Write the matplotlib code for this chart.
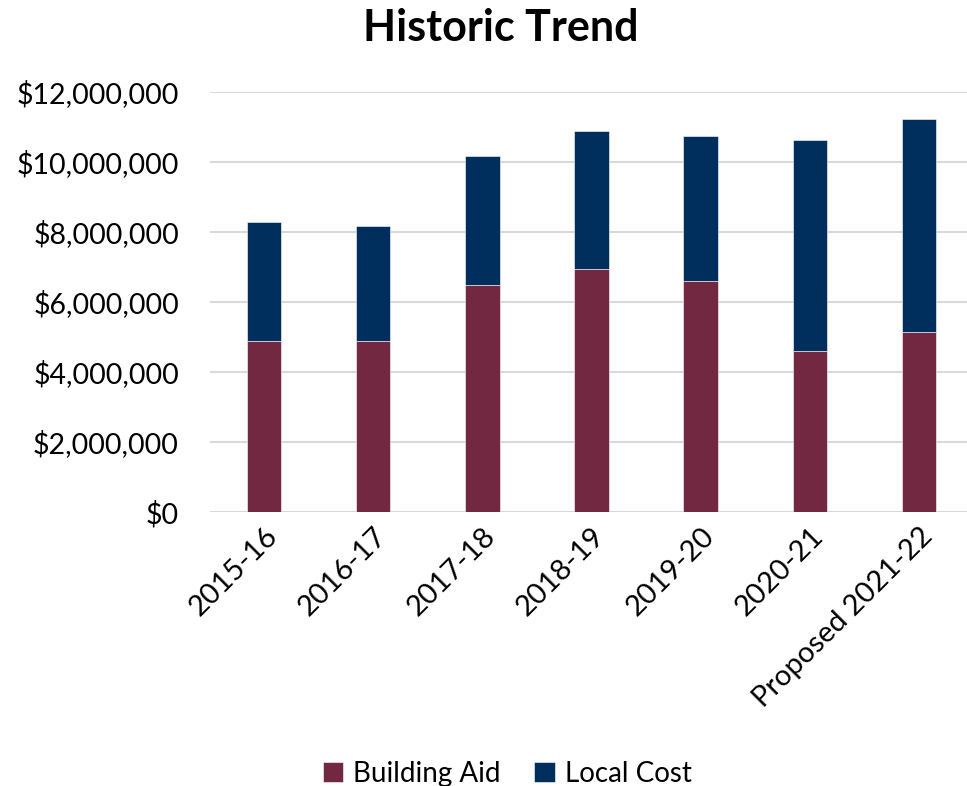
import matplotlib
matplotlib.use("Agg")
import matplotlib.pyplot as plt
from matplotlib.ticker import FuncFormatter

years = ["2015-16", "2016-17", "2017-18", "2018-19", "2019-20", "2020-21", "Proposed 2021-22"]
building_aid = [4886000, 4886000, 6486000, 6943000, 6600000, 4600000, 5143000]
local_cost = [3400000, 3286000, 3686000, 3943000, 4143000, 6029000, 6086000]

AID_COLOR = "#722840"
LOCAL_COLOR = "#002E5D"

plt.rcParams["font.family"] = ["Lato", "DejaVu Sans"]

fig = plt.figure(figsize=(9.67, 7.86), dpi=100)
ax = fig.add_axes([209.5 / 967, 1 - 512 / 786, 764 / 967, 420 / 786])

x = range(len(years))
ax.bar(x, building_aid, width=0.315, color=AID_COLOR, edgecolor="#ffffff", linewidth=0.4,
       label="Building Aid", zorder=3)
ax.bar(x, local_cost, width=0.315, bottom=building_aid, color=LOCAL_COLOR, edgecolor="#ffffff",
       linewidth=0.4, label="Local Cost", zorder=3)

ax.set_xlim(-0.5, len(years) - 0.5)
ax.set_ylim(0, 12000000)
ax.set_yticks(range(0, 12000001, 2000000))
ax.yaxis.set_major_formatter(FuncFormatter(lambda v, p: f"${v:,.0f}"))
ax.grid(axis="y", color="#d9d9d9", linewidth=1.5, zorder=0)
for s in ax.spines.values():
    s.set_visible(False)
ax.tick_params(axis="y", length=0, labelsize=20.5, pad=22)
ax.tick_params(axis="x", length=0, labelsize=21, pad=8)
ax.set_xticks(list(x))
ax.set_xticklabels(years, rotation=45, ha="right", rotation_mode="anchor")

fig.text(501 / 967, 1 - 28 / 786, "Historic Trend", ha="center", va="center",
         fontsize=31, fontweight="bold")
fig.legend(loc="center", bbox_to_anchor=(507 / 967, 1 - 774 / 786), ncol=2, frameon=False,
           fontsize=20, handlelength=0.75, handleheight=0.75, handletextpad=0.35,
           columnspacing=1.2)

fig.savefig("out.png", dpi=100)
